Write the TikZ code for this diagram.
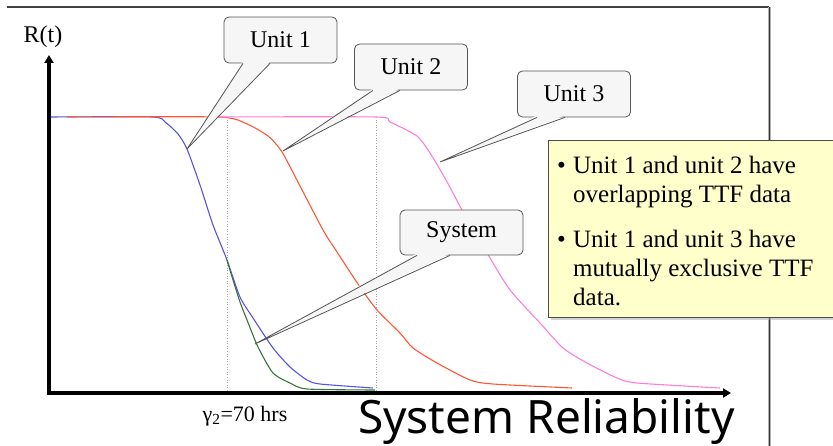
\documentclass[tikz,border=0pt]{standalone}
\usepackage{fontspec}
\setmainfont{Liberation Serif}
\newfontfamily\bigsans{Noto Sans}
\usetikzlibrary{arrows.meta,shadows}

\definecolor{unitblue}{RGB}{85,85,225}
\definecolor{unitred}{RGB}{255,85,55}
\definecolor{unitpink}{RGB}{255,125,215}
\definecolor{sysgreen}{RGB}{55,115,55}
\definecolor{notefill}{RGB}{255,255,204}
\definecolor{callfill}{RGB}{246,246,246}
\definecolor{calledge}{RGB}{85,85,85}

\begin{document}
\begin{tikzpicture}[x=1pt,y=-1pt,
  axis/.style={line width=3.5pt,-{Triangle[length=8pt,width=9pt]}},
  curve/.style={line width=1.1pt},
  guide/.style={gray!70,dotted,line width=0.6pt},
  callout/.style={draw=calledge,fill=callfill,rounded corners=5pt,line width=0.8pt,
    minimum width=113pt,minimum height=46pt,font=\fontsize{24}{28}\selectfont},
  pointer/.style={draw=calledge,line width=0.8pt},
  notebox/.style={draw=black!70,fill=notefill,line width=0.8pt,
    drop shadow={shadow xshift=3pt,shadow yshift=-3pt,fill=gray!70}}]
\useasboundingbox (0,0) rectangle (833,446);
\clip (0,0) rectangle (833,446);

% slide frame
\draw[gray!50!black,line width=1.3pt] (7,7) -- (769,7);
\draw[gray!60,line width=2.4pt] (769.5,7) -- (769.5,446);
\draw[gray!40!black,line width=1pt] (769,7) -- (769,446);

% guides at the two plateau ends
\draw[guide] (227,117) -- (227,393);
\draw[guide] (376,117) -- (376,393);

% reliability curves
\draw[curve,unitblue] plot[smooth,tension=0.4] coordinates {(49,117) (152,117) (165,122) (178,134)
  (187,149) (200,185) (213,225) (227,260) (240,297) (253,318) (273,348) (290,367) (307,380)
  (320,384) (373,388)};
\draw[curve,unitred] plot[smooth,tension=0.4] coordinates {(67,117) (217,117) (245,123) (268,136)
  (282,152) (300,186) (323,230) (337,252) (360,287) (377,310) (400,333) (413,348) (437,363)
  (470,380) (493,384) (572,388)};
\draw[curve,unitpink] plot[smooth,tension=0.4] coordinates {(217,117) (376,117) (390,122) (417,136)
  (430,153) (446,180) (462,210) (476,234) (490,258) (510,290) (540,323) (563,348) (587,363)
  (617,378) (637,383) (720,388)};
\draw[curve,sysgreen] plot[smooth,tension=0.4] coordinates {(227,260) (233,280) (240,302) (247,320)
  (258,347) (273,373) (290,383) (307,389) (375,390)};

% axes
\coordinate (o) at (49,393);
\draw[axis] (o) -- (49,55);
\draw[axis] ([xshift=-1.75pt]o) -- (731,393);
\node[font=\fontsize{24}{28}\selectfont] (rt) at (43,37) {R(t)};
\node[font=\fontsize{22}{26}\selectfont] (gam) at (245,416) {γ\textsubscript{2}=70 hrs};
\node[anchor=base west,font=\bigsans\fontsize{46}{52}\selectfont,inner sep=0pt] (title) at (358,433) {System Reliability};

% callouts
\node[callout] (u1) at (280.5,40) {Unit 1};
\coordinate (u1tip) at (187,149);
\fill[callfill] ([xshift=-37.5pt,yshift=2pt]u1.south) -- (u1tip) -- ([xshift=-10.5pt,yshift=2pt]u1.south) -- cycle;
\draw[pointer] ([xshift=-37.5pt]u1.south) -- (u1tip) -- ([xshift=-10.5pt]u1.south);

\node[callout] (u2) at (411,67) {Unit 2};
\coordinate (u2tip) at (283,151);
\fill[callfill] ([xshift=-38pt,yshift=2pt]u2.south) -- (u2tip) -- ([xshift=-11pt,yshift=2pt]u2.south) -- cycle;
\draw[pointer] ([xshift=-38pt]u2.south) -- (u2tip) -- ([xshift=-11pt]u2.south);

\node[callout] (u3) at (574,94) {Unit 3};
\coordinate (u3tip) at (440,162);
\fill[callfill] ([xshift=-37pt,yshift=2pt]u3.south) -- (u3tip) -- ([xshift=-9pt,yshift=2pt]u3.south) -- cycle;
\draw[pointer] ([xshift=-37pt]u3.south) -- (u3tip) -- ([xshift=-9pt]u3.south);

\node[callout,minimum width=123pt,minimum height=45pt] (sys) at (461.5,232.5) {System};
\coordinate (systip) at (255,344);
\fill[callfill] ([xshift=-44.5pt,yshift=2pt]sys.south) -- (systip) -- ([xshift=-11.5pt,yshift=2pt]sys.south) -- cycle;
\draw[pointer] ([xshift=-44.5pt]sys.south) -- (systip) -- ([xshift=-11.5pt]sys.south);

% note
\node[notebox,anchor=north west,minimum width=300pt,minimum height=177pt] (note) at (548,140) {};
\node[anchor=north west,align=left,inner sep=0pt,font=\fontsize{25}{29}\selectfont] (notetext) at (557,155.5)
  {\makebox[16pt][l]{\textbullet}Unit 1 and unit 2 have\\
   \hspace*{16pt}overlapping TTF data\\[16pt]
   \makebox[16pt][l]{\textbullet}Unit 1 and unit 3 have\\
   \hspace*{16pt}mutually exclusive TTF\\
   \hspace*{16pt}data.};
\end{tikzpicture}
\end{document}
